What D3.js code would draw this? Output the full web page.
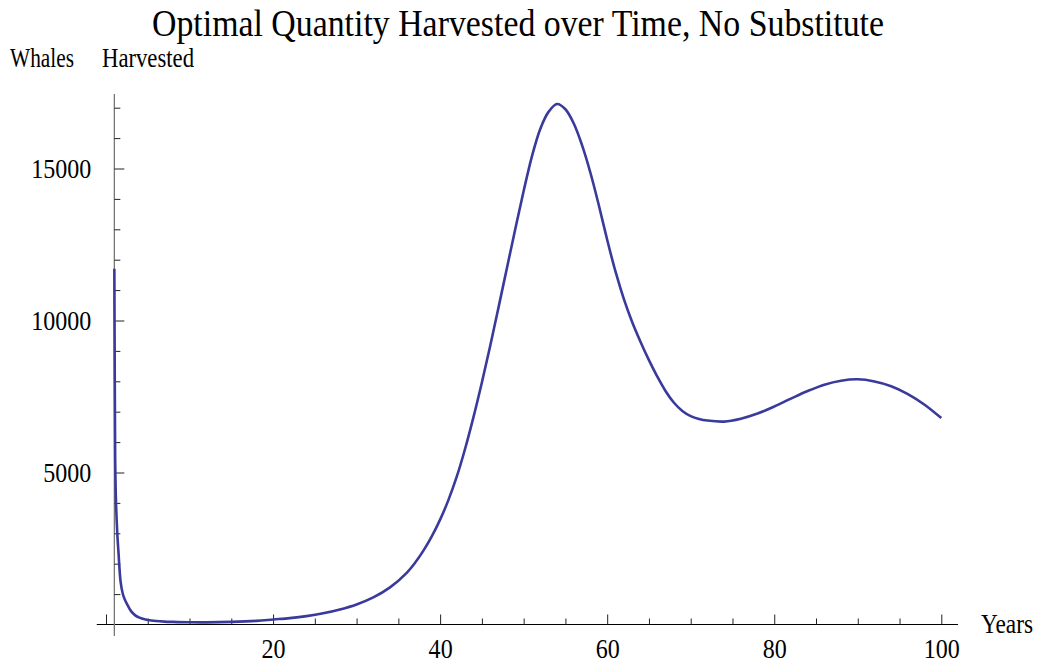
<!DOCTYPE html>
<html>
<head>
<meta charset="utf-8">
<script src="https://cdn.jsdelivr.net/npm/d3@7"></script>
<style>
  html, body { margin: 0; padding: 0; background: #fff; }
  svg { display: block; }
  svg text { font-family: "Liberation Serif", "Tinos", "DejaVu Serif", "Times New Roman", Times, serif !important; fill: #000; }
</style>
</head>
<body>
<svg id="chart" width="1040" height="668"></svg>
<script>
// ---- data ----
const years = [1, 1.05, 1.1, 1.2, 1.35, 1.5, 1.75, 2, 2.25, 2.5, 3, 3.5, 4, 4.5, 5, 6, 7, 8, 10, 12, 15, 18, 20,
  22, 24, 26, 28, 30, 32, 34, 36, 37, 38, 39, 40, 41, 42, 43, 44, 45, 46, 47, 48, 49, 50, 51, 52, 53, 54, 55, 56, 57, 58, 59, 60,
  61, 62, 63, 64, 65, 66, 67, 68, 69, 70, 71, 72, 74, 76, 78, 80, 82, 84, 86, 88, 90, 92, 94, 96, 98, 100];
const harvested = [11700, 8000, 5400, 4000, 3000, 2350, 1400, 1020, 820, 680, 440, 300, 225, 180, 150, 115, 95, 85, 72, 70, 85, 120, 165,
  210, 275, 368, 495, 660, 890, 1220, 1700, 2030, 2430, 2900, 3450, 4100, 4870, 5790, 6830, 7960, 9170, 10440, 11730, 13010, 14260, 15410, 16310, 16870, 17120, 16950, 16480, 15760, 14852, 13790, 12655,
  11605, 10705, 9945, 9295, 8695, 8155, 7675, 7295, 7025, 6855, 6760, 6708, 6675, 6770, 6940, 7170, 7430, 7680, 7890, 8020, 8065, 7995, 7840, 7580, 7230, 6790];

const xMajorTicks = [0, 20, 40, 60, 80, 100];
const xMinorTicks = [5, 10, 15, 25, 30, 35, 45, 50, 55, 65, 70, 75, 85, 90, 95];
const xTickLabels = ["", "20", "40", "60", "80", "100"];
const yMajorTicks = [5000, 10000, 15000];
const yMinorTicks = [1000, 2000, 3000, 4000, 6000, 7000, 8000, 9000, 11000, 12000, 13000, 14000, 16000, 17000];
const yTickLabels = ["5000", "10000", "15000"];
const xAxisExtent = [-1.1, 102];
const yAxisExtent = [-380, 17450];
const yAxisAt = 1;

const titleText = "Optimal Quantity Harvested over Time, No Substitute";
const yLabelWords = ["Whales", "Harvested"];
const xLabelText = "Years";

// ---- drawing ----
const FONT = '"Liberation Serif", "Tinos", "DejaVu Serif", "Times New Roman", Times, serif';
const svg = d3.select("#chart");
const x = d3.scaleLinear().domain([0, 100]).range([106, 941.3]);
const y = d3.scaleLinear().domain([0, 17000]).range([624.5, 107.7]);

const squeeze = (sel, f) => sel.each(function () {
  const L = this.getComputedTextLength();
  d3.select(this).attr("textLength", L * f).attr("lengthAdjust", "spacingAndGlyphs");
});

// axis lines
svg.append("line")
  .attr("x1", x(xAxisExtent[0])).attr("x2", x(xAxisExtent[1]))
  .attr("y1", y(0)).attr("y2", y(0))
  .attr("stroke", "#000").attr("stroke-width", 1.1);
svg.append("line")
  .attr("x1", x(yAxisAt)).attr("x2", x(yAxisAt))
  .attr("y1", y(yAxisExtent[0])).attr("y2", y(yAxisExtent[1]))
  .attr("stroke", "#777").attr("stroke-width", 1.3);

// x ticks (pointing up)
const gx = svg.append("g").attr("transform", `translate(0,${y(0)})`);
gx.append("g").call(d3.axisTop(x).tickValues(xMinorTicks).tickSize(6).tickFormat(""))
  .call(g => g.select(".domain").remove())
  .selectAll("line").attr("stroke", "#222");
gx.append("g").call(d3.axisTop(x).tickValues(xMajorTicks).tickSize(10).tickFormat(""))
  .call(g => g.select(".domain").remove())
  .selectAll("line").attr("stroke", "#222");
const gxl = gx.append("g").call(d3.axisBottom(x).tickValues(xMajorTicks).tickSize(0).tickPadding(14)
  .tickFormat((d, i) => xTickLabels[i]));
gxl.attr("font-family", FONT).attr("font-size", 27);
gxl.select(".domain").remove();
gxl.selectAll("text").attr("font-size", 27).attr("font-family", FONT).attr("fill", "#000")
  .call(squeeze, 0.89);

// y ticks (pointing right)
const gy = svg.append("g").attr("transform", `translate(${x(yAxisAt)},0)`);
gy.append("g").call(d3.axisRight(y).tickValues(yMinorTicks).tickSize(6).tickFormat(""))
  .call(g => g.select(".domain").remove())
  .selectAll("line").attr("stroke", "#222");
gy.append("g").call(d3.axisRight(y).tickValues(yMajorTicks).tickSize(10).tickFormat(""))
  .call(g => g.select(".domain").remove())
  .selectAll("line").attr("stroke", "#222");
const gyl = gy.append("g").call(d3.axisLeft(y).tickValues(yMajorTicks).tickSize(0).tickPadding(23)
  .tickFormat((d, i) => yTickLabels[i]));
gyl.attr("font-family", FONT).attr("font-size", 27);
gyl.select(".domain").remove();
gyl.selectAll("text").attr("font-size", 27).attr("font-family", FONT).attr("fill", "#000")
  .call(squeeze, 0.89);

// curve
const line = d3.line().x((d, i) => x(years[i])).y(d => y(d)).curve(d3.curveCatmullRom.alpha(0.5));
svg.append("path")
  .datum(harvested)
  .attr("d", line)
  .attr("fill", "none")
  .attr("stroke", "rgb(58,58,156)")
  .attr("stroke-width", 2.6)
  .attr("stroke-linejoin", "round");

// title & labels
const addText = (tx, ty, fs, len, str) => svg.append("text")
  .attr("x", tx).attr("y", ty).attr("font-size", fs).attr("font-family", FONT)
  .attr("textLength", len).attr("lengthAdjust", "spacingAndGlyphs").text(str);
addText(152, 36, 37, 732, titleText);
addText(10, 67, 27, 64, yLabelWords[0]);
addText(102, 67, 27, 92, yLabelWords[1]);
addText(981, 633, 27, 52, xLabelText);
</script>
</body>
</html>
